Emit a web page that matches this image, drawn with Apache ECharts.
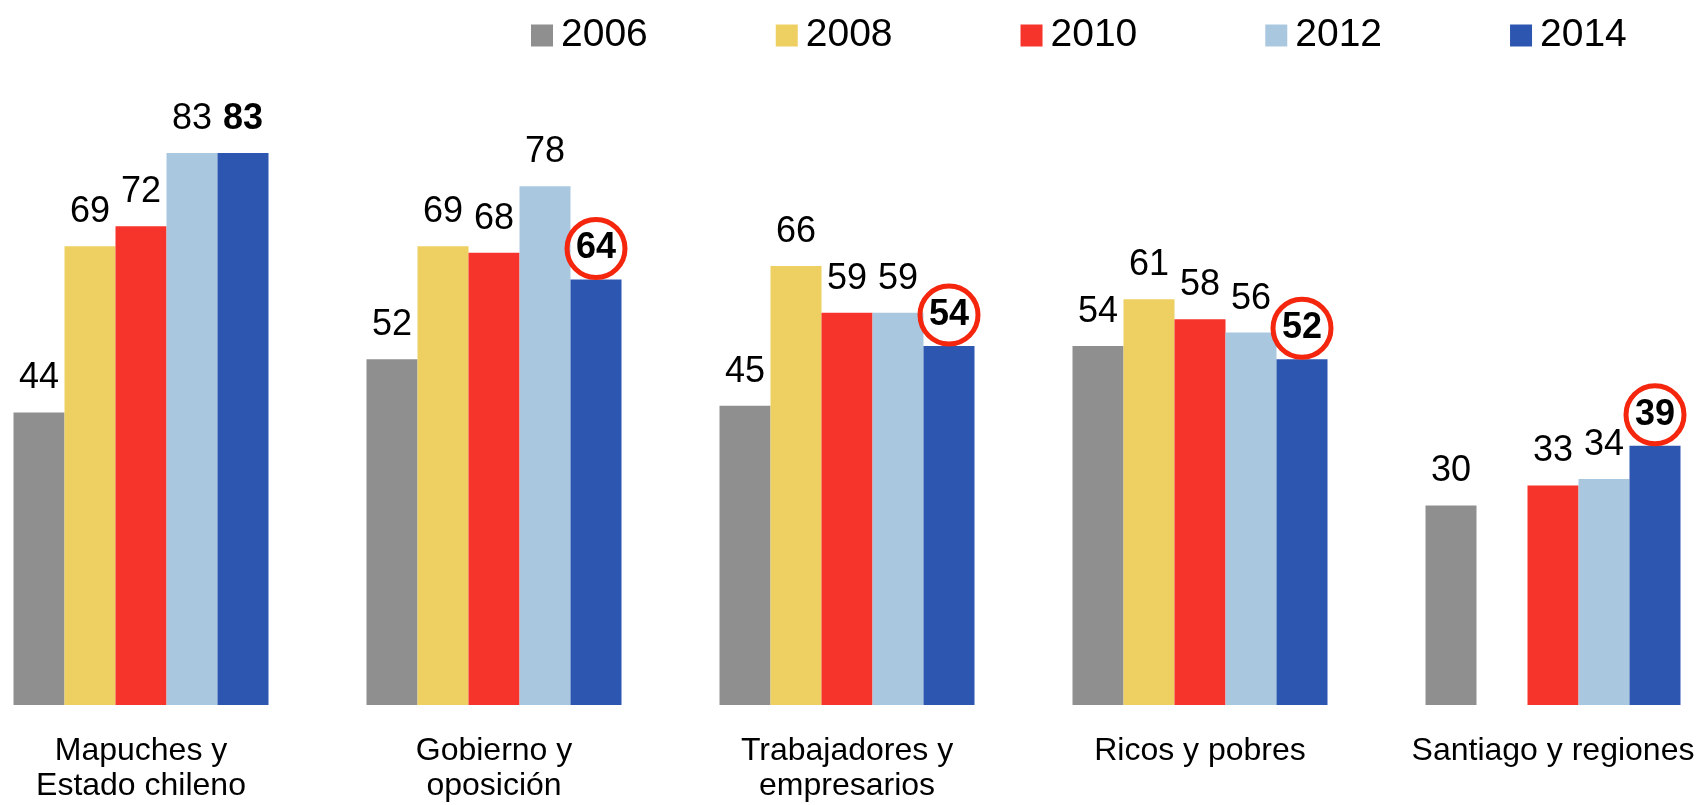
<!DOCTYPE html>
<html>
<head>
<meta charset="utf-8">
<script src="https://cdn.jsdelivr.net/npm/echarts@6/dist/echarts.min.js"></script>
<style>
    html, body { margin: 0; padding: 0; background: #fff; }
    #chart { width: 1698px; height: 805px; }
</style>
</head>
<body>
<div id="chart"></div>
<script>
// data
var categories = ['Mapuches y\nEstado chileno', 'Gobierno y\noposición', 'Trabajadores y\nempresarios', 'Ricos y pobres', 'Santiago y regiones'];
var years = ['2006', '2008', '2010', '2012', '2014'];
var v2006 = [44, 52, 45, 54, 30];
var v2008 = [69, 69, 66, 61, null];
var v2010 = [72, 68, 59, 58, 33];
var v2012 = [83, 78, 59, 56, 34];
var v2014 = [83, 64, 54, 52, 39];
var circled2014 = [false, true, true, true, true];

var colors = ['#8f8f8f', '#eecf62', '#f6342b', '#a9c8e0', '#2d56b1'];
var fontFamily = '"Liberation Sans", Arial, sans-serif';

var chartDom = document.getElementById('chart');
var myChart = echarts.init(chartDom);

function makeSeries(name, values, idx) {
    return {
        name: name,
        type: 'bar',
        barWidth: 51,
        barGap: '0%',
        clip: false,
        itemStyle: { color: colors[idx] },
        label: {
            show: true,
            position: 'top',
            distance: 16,
            fontSize: 36,
            fontFamily: fontFamily,
            color: '#000'
        },
        data: values
    };
}

var allValues = [v2006, v2008, v2010, v2012, v2014];
var series = years.map(function (y, i) {
    return makeSeries(y, allValues[i], i);
});

// last year: bold labels, most of them circled in red
series[4].label.fontWeight = 'bold';
series[4].data = v2014.map(function (v, i) {
    if (!circled2014[i]) return v;
    return {
        value: v,
        label: {
            distance: 2,
            width: 58,
            height: 58,
            lineHeight: 58,
            borderRadius: 29,
            borderWidth: 5,
            borderColor: '#f5260e'
        }
    };
});

var option = {
    animation: false,
    color: colors,
    textStyle: { fontFamily: fontFamily },
    legend: {
        left: 526,
        top: 11,
        itemWidth: 22,
        itemHeight: 22,
        itemGap: 128,
        icon: 'rect',
        textStyle: {
            fontSize: 39,
            color: '#000',
            fontFamily: fontFamily,
            padding: [0, 0, 0, 3]
        },
        data: years
    },
    // category centres sit on the grid edges (boundaryGap false)
    grid: {
        left: 141,
        right: 145,
        top: 40,
        bottom: 100
    },
    xAxis: {
        type: 'category',
        data: categories,
        boundaryGap: false,
        axisLine: { show: false },
        axisTick: { show: false },
        axisLabel: {
            margin: 29,
            fontSize: 32,
            lineHeight: 35,
            color: '#000',
            fontFamily: fontFamily,
            interval: 0
        }
    },
    yAxis: {
        type: 'value',
        min: 0,
        max: 100,
        show: false,
        splitLine: { show: false }
    },
    series: series
};

myChart.setOption(option);

window.addEventListener('resize', function () {
    myChart.resize();
});
</script>
</body>
</html>
